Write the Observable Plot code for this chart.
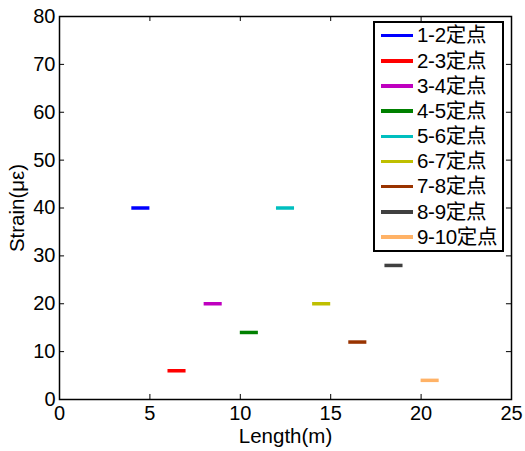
<!DOCTYPE html>
<html><head><meta charset="utf-8">
<script src="https://cdn.jsdelivr.net/npm/d3@7"></script>
<script src="https://cdn.jsdelivr.net/npm/@observablehq/plot@0.6"></script>
<style>
body{margin:0;background:#fff;}
#wrap{position:relative;width:525px;height:451px;font-family:"Liberation Sans",Arial,"Noto Sans CJK SC",sans-serif;}
#legend{position:absolute;left:373px;top:21px;width:127px;height:227px;border:2px solid #000;background:#fff;box-sizing:content-box;}
.row{display:flex;align-items:center;height:25.2px;}
.sw{width:32px;height:3.5px;margin-left:6px;margin-right:4px;flex:none;}
.lab{font-size:20.5px;font-family:"Liberation Sans","Noto Sans CJK SC",sans-serif;color:#000;line-height:1;white-space:nowrap;letter-spacing:-0.3px;}
</style></head><body><div id="wrap"></div>
<script>
const segments = ["1-2定点","2-3定点","3-4定点","4-5定点","5-6定点","6-7定点","7-8定点","8-9定点","9-10定点"];
const xStart = [4,6,8,10,12,14,16,18,20];
const xEnd   = [5,7,9,11,13,15,17,19,21];
const strain = [40,6,20,14,40,20,12,28,4];
const colors = ["#0000ff","#ff0000","#bf00bf","#008000","#00bfbf","#bfbf00","#993300","#404040","#ffb266"];
const xTicks = [0,5,10,15,20,25];
const yTicks = [0,10,20,30,40,50,60,70,80];

const rows = segments.map((s,i)=>({name:s,x1:xStart[i],x2:xEnd[i],strain:strain[i],color:colors[i]}));
const font = '"Liberation Sans",Arial,sans-serif';
const innerX = xTicks.slice(1,-1), innerY = yTicks.slice(1,-1);

const chart = Plot.plot({
  width:525, height:451,
  marginLeft:59, marginRight:14, marginTop:16, marginBottom:52,
  x:{domain:[0,25]}, y:{domain:[0,80]},
  color:{type:"identity"},
  style:{fontFamily:font, background:"#fff", color:"#000"},
  marks:[
    Plot.ruleY(rows,{y:"strain",x1:"x1",x2:"x2",stroke:"color",strokeWidth:3.5}),
    Plot.ruleX(innerX,{y1:0,y2:1.05,stroke:"#000",strokeWidth:1}),
    Plot.ruleX(innerX,{y1:80,y2:78.95,stroke:"#000",strokeWidth:1}),
    Plot.ruleY(innerY,{x1:0,x2:0.28,stroke:"#000",strokeWidth:1}),
    Plot.ruleY(innerY,{x1:25,x2:24.72,stroke:"#000",strokeWidth:1}),
    Plot.frame({stroke:"#000",strokeWidth:1.5}),
    Plot.axisX({ticks:xTicks, tickSize:0, tickPadding:6, fontSize:20, label:null}),
    Plot.axisY({ticks:yTicks, tickSize:0, tickPadding:4, fontSize:20, label:null}),
    Plot.text(["Length(m)"],{frameAnchor:"bottom", lineAnchor:"middle", textAnchor:"middle", dy:37, fontSize:20.5, text:d=>d}),
    Plot.text(["Strain(με)"],{frameAnchor:"left", lineAnchor:"middle", textAnchor:"middle", dx:-42, rotate:-90, fontSize:20.5, text:d=>d})
  ]
});
const wrap = document.getElementById("wrap");
wrap.appendChild(chart);
const leg = document.createElement("div");
leg.id = "legend";
rows.forEach(r=>{
  const row = document.createElement("div"); row.className="row";
  const sw = document.createElement("span"); sw.className="sw"; sw.style.background=r.color;
  const lab = document.createElement("span"); lab.className="lab"; lab.textContent=r.name;
  row.appendChild(sw); row.appendChild(lab); leg.appendChild(row);
});
wrap.appendChild(leg);
</script></body></html>
